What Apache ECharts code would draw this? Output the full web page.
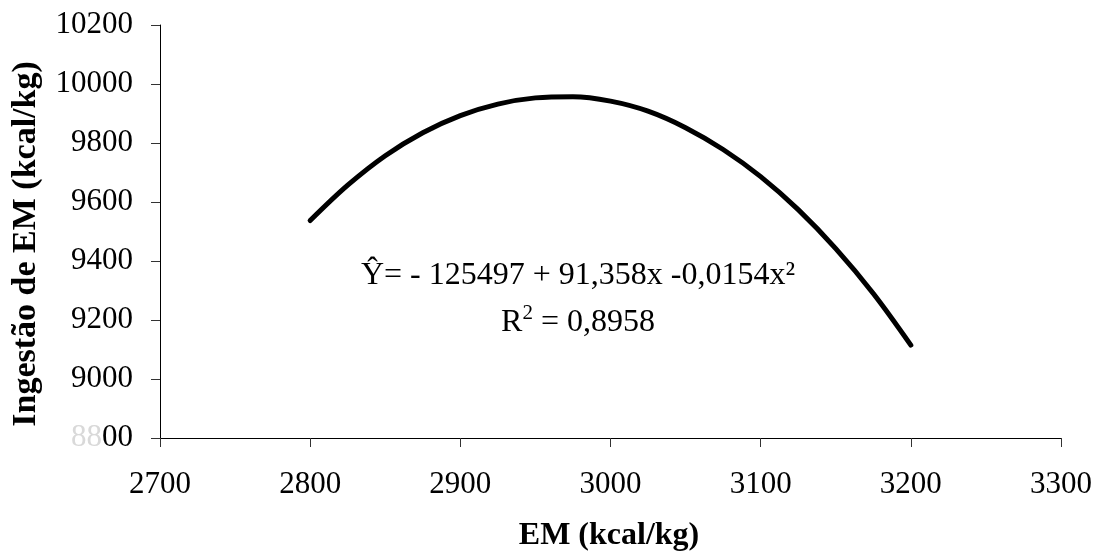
<!DOCTYPE html>
<html>
<head>
<meta charset="utf-8">
<script src="https://cdn.jsdelivr.net/npm/echarts@6/dist/echarts.min.js"></script>
<style>
  html, body { margin: 0; padding: 0; background: #ffffff; }
  #chart { width: 1097px; height: 555px; }
</style>
</head>
<body>
<div id="chart"></div>
<script>
// Metabolizable energy levels (kcal/kg) and fitted intake curve values
const emLevels = [2800, 2825, 2850, 2875, 2900, 2925, 2950, 2975, 3000,
                  3025, 3050, 3075, 3100, 3125, 3150, 3175, 3200];
const intake   = [9537, 9657, 9757, 9835, 9893, 9932, 9953, 9957, 9942,
                  9908, 9852, 9778, 9686, 9574, 9442, 9290, 9115];

// Axis ranges and tick steps
const xRange = { min: 2700, max: 3300, step: 100 };
const yRange = { min: 8800, max: 10200, step: 200 };

// Text labels
const xTitle = 'EM (kcal/kg)';
const yTitle = 'Ingestão de EM (kcal/kg)';
const equation = 'Ŷ= - 125497 + 91,358x -0,0154x²';
const rSquared = '0,8958';

const serif = '"Liberation Serif", "Times New Roman", serif';

const chart = echarts.init(document.getElementById('chart'));

chart.setOption({
  backgroundColor: '#ffffff',
  animation: false,
  grid: { left: 160, right: 36, top: 25, bottom: 117 },
  xAxis: {
    type: 'value',
    min: xRange.min,
    max: xRange.max,
    interval: xRange.step,
    axisLine: { show: true, lineStyle: { color: '#000', width: 1 } },
    axisTick: { show: true, length: 9, lineStyle: { color: '#333' } },
    splitLine: { show: false },
    axisLabel: {
      color: '#000',
      fontFamily: serif,
      fontSize: 31,
      margin: 31,
      formatter: function (v) { return String(v); }
    }
  },
  yAxis: {
    type: 'value',
    min: yRange.min,
    max: yRange.max,
    interval: yRange.step,
    axisLine: { show: true, lineStyle: { color: '#000', width: 1 } },
    axisTick: { show: true, length: 9, lineStyle: { color: '#333' } },
    splitLine: { show: false },
    axisLabel: {
      color: '#000',
      fontFamily: serif,
      fontSize: 31,
      margin: 27,
      formatter: function (v) {
        const s = String(v);
        if (v === yRange.min) {
          return '{f|' + s.slice(0, 2) + '}{n|' + s.slice(2) + '}';
        }
        return '{n|' + s + '}';
      },
      rich: {
        n: { color: '#000', fontFamily: serif, fontSize: 31 },
        f: { color: '#d9d9d9', fontFamily: serif, fontSize: 31 }
      }
    }
  },
  series: [{
    type: 'line',
    data: emLevels.map((x, i) => [x, intake[i]]),
    smooth: 0.35,
    showSymbol: false,
    lineStyle: { color: '#000', width: 5, cap: 'round', join: 'round' },
    silent: true
  }],
  graphic: [
    {
      type: 'text',
      x: 26, y: 244,
      rotation: Math.PI / 2,
      style: {
        text: yTitle,
        fontFamily: serif,
        fontWeight: 'bold',
        fontSize: 34,
        fill: '#000',
        align: 'center',
        verticalAlign: 'middle'
      }
    },
    {
      type: 'text',
      x: 609, y: 536,
      style: {
        text: xTitle,
        fontFamily: serif,
        fontWeight: 'bold',
        fontSize: 32,
        fill: '#000',
        align: 'center',
        verticalAlign: 'middle'
      }
    },
    {
      type: 'text',
      x: 578, y: 276,
      style: {
        text: equation,
        fontFamily: serif,
        fontSize: 32,
        fill: '#000',
        align: 'center',
        verticalAlign: 'middle'
      }
    },
    {
      type: 'text',
      x: 578, y: 321,
      style: {
        text: '{n|R}{s|2}{n| = ' + rSquared + '}',
        align: 'center',
        verticalAlign: 'middle',
        rich: {
          n: { fontFamily: serif, fontSize: 32, fill: '#000', color: '#000', lineHeight: 36, verticalAlign: 'bottom' },
          s: { fontFamily: serif, fontSize: 21, fill: '#000', color: '#000', lineHeight: 36, verticalAlign: 'top', padding: [0, 0, 14, 0] }
        }
      }
    }
  ]
});
</script>
</body>
</html>
